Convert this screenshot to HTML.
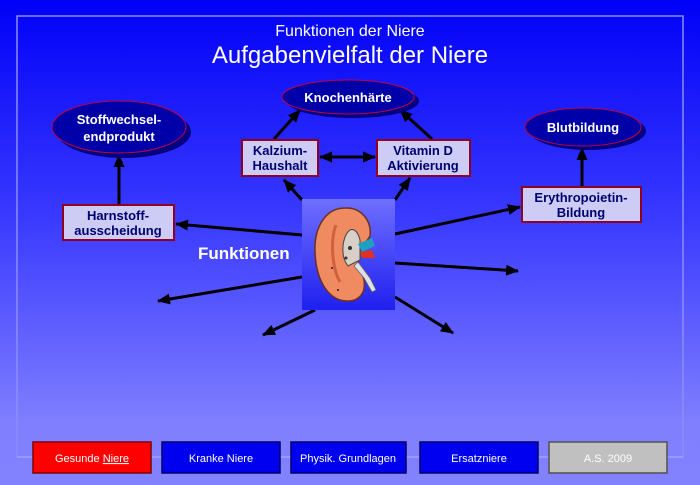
<!DOCTYPE html>
<html><head><meta charset="utf-8"><style>
html,body{margin:0;padding:0}
body{width:700px;height:485px;overflow:hidden;background:linear-gradient(#0000f8 0%,#3a3aff 45%,#8080ff 88%,#8282ff 100%);font-family:"Liberation Sans",sans-serif}
</style></head><body>
<svg width="700" height="485" viewBox="0 0 700 485" xmlns="http://www.w3.org/2000/svg" style="position:absolute;left:0;top:0">
<defs>
<marker id="b" markerWidth="13" markerHeight="11" refX="12" refY="5.5" orient="auto" markerUnits="userSpaceOnUse"><path d="M0,0 L13,5.5 L0,11 z" fill="#000"/></marker>
<marker id="bs" markerWidth="13" markerHeight="11" refX="1" refY="5.5" orient="auto" markerUnits="userSpaceOnUse"><path d="M13,0 L0,5.5 L13,11 z" fill="#000"/></marker>
<linearGradient id="kg" x1="0" y1="0" x2="0" y2="1"><stop offset="0" stop-color="#6f6fff"/><stop offset="1" stop-color="#2020f0"/></linearGradient>
</defs>
<polyline points="17,457 17,16 683,16 683,457" fill="none" stroke="#8c8cff" stroke-width="1.5"/>
<line x1="17" y1="457" x2="683" y2="457" stroke="#a0a0ff" stroke-width="1.5"/>
<text x="350" y="36" fill="#fff" font-size="16" text-anchor="middle">Funktionen der Niere</text>
<text x="350" y="63" fill="#fff" font-size="24" text-anchor="middle">Aufgabenvielfalt der Niere</text>
<g stroke="#000" stroke-width="3" fill="none">
<line x1="302" y1="235" x2="176" y2="224" marker-end="url(#b)"/>
<line x1="302" y1="200" x2="284" y2="180" marker-end="url(#b)"/>
<line x1="395" y1="200" x2="410" y2="178" marker-end="url(#b)"/>
<line x1="395" y1="234" x2="520" y2="207" marker-end="url(#b)"/>
<line x1="395" y1="263" x2="518" y2="271" marker-end="url(#b)"/>
<line x1="302" y1="277" x2="158" y2="301" marker-end="url(#b)"/>
<line x1="315" y1="310" x2="263" y2="335" marker-end="url(#b)"/>
<line x1="395" y1="297" x2="453" y2="333" marker-end="url(#b)"/>
<line x1="274" y1="139" x2="300" y2="110" marker-end="url(#b)"/>
<line x1="432" y1="139" x2="400" y2="110" marker-end="url(#b)"/>
<line x1="320" y1="157" x2="375" y2="157" marker-start="url(#bs)" marker-end="url(#b)"/>
<line x1="119" y1="205" x2="119" y2="155" marker-end="url(#b)"/>
<line x1="582" y1="186" x2="582" y2="148" marker-end="url(#b)"/>
</g>
<g font-weight="bold" font-size="13" text-anchor="middle">
<ellipse cx="124" cy="132" rx="67" ry="26" fill="#000080"/>
<ellipse cx="119" cy="127" rx="67" ry="26" fill="#0000a8" stroke="#c00040" stroke-width="1"/>
<text x="119" y="124" fill="#fff">Stoffwechsel-</text><text x="119" y="141" fill="#fff">endprodukt</text>
<ellipse cx="353" cy="101" rx="66" ry="17" fill="#000080"/>
<ellipse cx="348" cy="97" rx="66" ry="17" fill="#0000a8" stroke="#c00040" stroke-width="1"/>
<text x="348" y="102" fill="#fff">Knochenhärte</text>
<ellipse cx="588" cy="131" rx="58" ry="19" fill="#000080"/>
<ellipse cx="583" cy="127" rx="58" ry="19" fill="#0000a8" stroke="#c00040" stroke-width="1"/>
<text x="583" y="132" fill="#fff">Blutbildung</text>
<g fill="#ccccf4" stroke="#900020" stroke-width="2">
<rect x="63" y="205" width="111" height="35"/>
<rect x="242" y="140" width="76" height="36"/>
<rect x="377" y="140" width="93" height="36"/>
<rect x="522" y="187" width="119" height="35"/>
</g>
<g fill="#000070">
<text x="118" y="220">Harnstoff-</text><text x="118" y="235">ausscheidung</text>
<text x="280" y="155">Kalzium-</text><text x="280" y="170">Haushalt</text>
<text x="423" y="155">Vitamin D</text><text x="423" y="170">Aktivierung</text>
<text x="581" y="202">Erythropoietin-</text><text x="581" y="217">Bildung</text>
</g>
</g>
<rect x="302" y="199" width="93" height="111" fill="url(#kg)"/>
<path d="M345,208 C325,208 314,228 315,252 C316,280 328,300 346,301 C360,302 366,292 364,280 C362,270 356,262 358,254 C360,246 366,244 370,236 C372,222 362,207 345,208 z" fill="#f08a60" stroke="#6a3020" stroke-width="1.5"/>
<path d="M336,225 C330,240 332,268 340,282" fill="none" stroke="#d06040" stroke-width="3"/>
<path d="M350,230 C342,236 340,256 348,266 L360,260 L360,240 C358,232 354,228 350,230 z" fill="#d8d0c8" stroke="#444" stroke-width="1"/>
<circle cx="350" cy="248" r="2" fill="#333"/><circle cx="346" cy="258" r="1.5" fill="#333"/><circle cx="332" cy="268" r="1" fill="#222"/><circle cx="338" cy="290" r="1" fill="#222"/>
<path d="M358,244 L372,238 L375,246 L362,252 z" fill="#20a0c0"/>
<path d="M360,252 L372,250 L375,258 L362,258 z" fill="#e03020"/>
<path d="M358,262 L370,278 L376,290 L372,292 L364,278 L354,266 z" fill="#e0e0e8" stroke="#666" stroke-width="0.8"/>
<text x="198" y="259" fill="#fff" font-size="17" font-weight="bold">Funktionen</text>
<g font-size="11" text-anchor="middle" fill="#fff">
<rect x="33" y="442" width="118" height="31" fill="#ff0000" stroke="#800000" stroke-width="1.5"/>
<text x="92" y="462">Gesunde <tspan text-decoration="underline">Niere</tspan></text>
<rect x="162" y="442" width="118" height="31" fill="#0000f0" stroke="#000060" stroke-width="1.5"/>
<text x="221" y="462">Kranke Niere</text>
<rect x="291" y="442" width="115" height="31" fill="#0000f0" stroke="#000060" stroke-width="1.5"/>
<text x="348" y="462">Physik. Grundlagen</text>
<rect x="420" y="442" width="118" height="31" fill="#0000f0" stroke="#000060" stroke-width="1.5"/>
<text x="479" y="462">Ersatzniere</text>
<rect x="549" y="442" width="118" height="31" fill="#c0c0c0" stroke="#505050" stroke-width="1.5"/>
<text x="608" y="462">A.S. 2009</text>
</g>
</svg>
</body></html>
